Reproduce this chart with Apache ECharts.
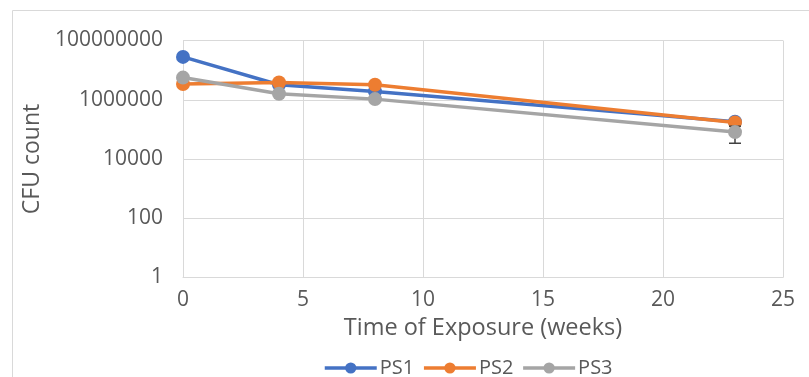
<!DOCTYPE html>
<html>
<head>
<meta charset="utf-8">
<script src="https://cdn.jsdelivr.net/npm/echarts@6/dist/echarts.min.js"></script>
<style>html,body{margin:0;padding:0;background:#fff}#c{width:809px;height:377px}</style>
</head>
<body>
<div id="c"></div>
<script>
const weeks = [0, 4, 8, 23];
const seriesNames = ['PS1', 'PS2', 'PS3'];
const ps1 = [28000000, 3200000, 1900000, 180000];
const ps2 = [3400000, 3800000, 3200000, 170000];
const ps3 = [5600000, 1600000, 1050000, 81000];
const ps3Err = [0, 0, 0, 47000];
const yTicks = [1, 100, 10000, 1000000, 100000000];
const xTicks = [0, 5, 10, 15, 20, 25];
const colors = ['#4472C4', '#ED7D31', '#A5A5A5'];

const FONT = 'Open Sans';
const TXT = '#595959';

function pairs(vals) { return weeks.map((w, i) => [w, vals[i]]); }
const errData = weeks.map((w, i) => [w, ps3[i] - ps3Err[i], ps3[i] + ps3Err[i]]).filter((d, i) => ps3Err[i] > 0);

function lineSeries(name, vals, color, z) {
  return {
    name: name, type: 'line', data: pairs(vals), z: z,
    symbol: 'circle', symbolSize: 14,
    lineStyle: { color: color, width: 3.5 },
    itemStyle: { color: color },
    emphasis: { disabled: true }
  };
}

const chart = echarts.init(document.getElementById('c'), null, { renderer: 'canvas' });
chart.setOption({
  animation: false,
  color: colors,
  graphic: [{
    type: 'rect', shape: { x: 12.5, y: 10.5, width: 820, height: 420 },
    style: { fill: 'none', stroke: '#d9d9d9', lineWidth: 1 }, silent: true
  }],
  grid: { left: 183, right: 26, top: 40.5, bottom: 99.5, containLabel: false, outerBoundsMode: 'none' },
  legend: {
    data: seriesNames, left: 318, top: 353, itemWidth: 52, itemHeight: 14, itemGap: 8,
    lineStyle: { width: 3.5 },
    textStyle: { fontFamily: FONT, fontSize: 20, color: TXT, padding: [0, 0, 0, -2] }
  },
  xAxis: {
    type: 'value', min: 0, max: 25, interval: 5,
    name: 'Time of Exposure (weeks)', nameLocation: 'middle', nameGap: 39,
    nameTextStyle: { fontFamily: FONT, fontSize: 23.5, color: TXT },
    axisLine: { show: true, lineStyle: { color: '#d9d9d9', width: 1 } },
    axisTick: { show: false },
    axisLabel: { fontFamily: FONT, fontSize: 21, color: TXT, margin: 12,
      customValues: xTicks },
    splitLine: { show: true, lineStyle: { color: '#d9d9d9', width: 1 } }
  },
  yAxis: {
    type: 'log', logBase: 100, min: 1, max: 100000000,
    name: 'CFU count', nameLocation: 'middle', nameGap: 138, nameRotate: 90,
    nameTextStyle: { fontFamily: FONT, fontSize: 23, color: TXT },
    axisLine: { show: false }, axisTick: { show: false },
    axisLabel: { fontFamily: FONT, fontSize: 21, color: TXT, margin: 20,
      formatter: v => String(Math.round(v)) },
    splitLine: { show: true, lineStyle: { color: '#d9d9d9', width: 1 } }
  },
  series: [
    lineSeries('PS1', ps1, colors[0], 2),
    lineSeries('PS2', ps2, colors[1], 3),
    {
      name: 'PS3 error', type: 'custom', z: 4, data: errData,
      renderItem: function (params, api) {
        const x = api.value(0);
        const lo = api.coord([x, api.value(1)]);
        const hi = api.coord([x, api.value(2)]);
        const hw = 6;
        const st = { stroke: '#404040', lineWidth: 1.5 };
        return { type: 'group', children: [
          { type: 'line', shape: { x1: lo[0], y1: lo[1], x2: hi[0], y2: hi[1] }, style: st },
          { type: 'line', shape: { x1: lo[0] - hw, y1: lo[1], x2: lo[0] + hw, y2: lo[1] }, style: st },
          { type: 'line', shape: { x1: hi[0] - hw, y1: hi[1], x2: hi[0] + hw, y2: hi[1] }, style: st }
        ] };
      }
    },
    lineSeries('PS3', ps3, colors[2], 5)
  ]
});
</script>
</body>
</html>
